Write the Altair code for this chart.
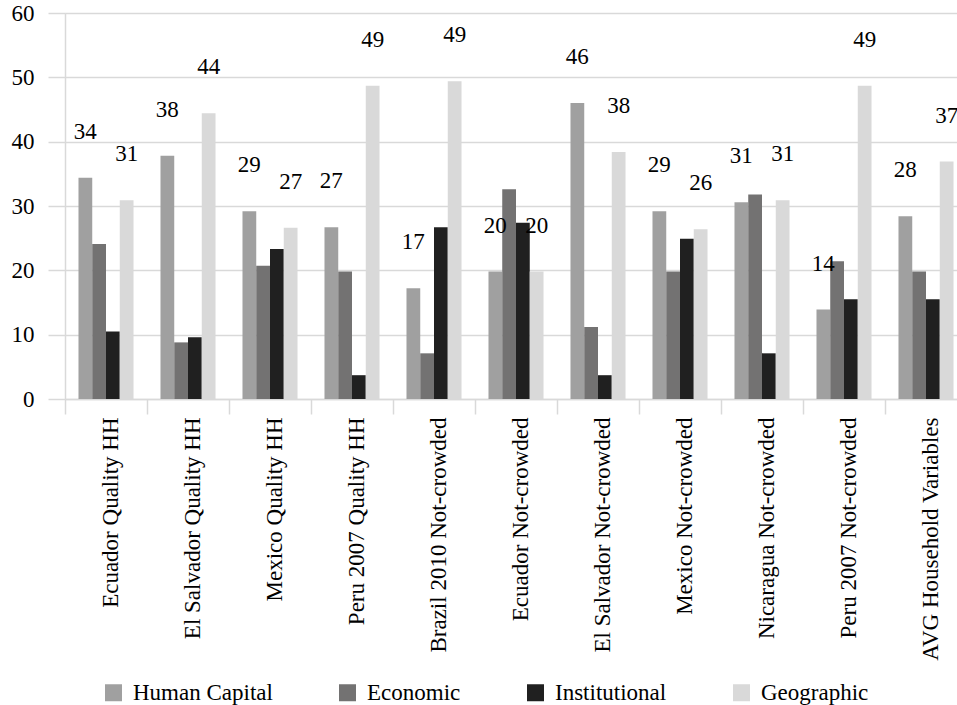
import altair as alt
import pandas as pd

# Categories along the x axis and the four factor groups
categories = [
    "Ecuador Quality HH",
    "El Salvador Quality HH",
    "Mexico Quality HH",
    "Peru 2007 Quality HH",
    "Brazil 2010 Not-crowded",
    "Ecuador Not-crowded",
    "El Salvador Not-crowded",
    "Mexico Not-crowded",
    "Nicaragua Not-crowded",
    "Peru 2007 Not-crowded",
    "AVG Household Variables",
]
series = ["Human Capital", "Economic", "Institutional", "Geographic"]

human_capital = [34.4, 37.8, 29.2, 26.7, 17.2, 19.8, 46.0, 29.2, 30.6, 13.9, 28.4]
economic = [24.1, 8.8, 20.7, 19.8, 7.1, 32.6, 11.2, 19.8, 31.8, 21.4, 19.8]
institutional = [10.5, 9.6, 23.3, 3.7, 26.7, 27.4, 3.7, 24.9, 7.1, 15.5, 15.5]
geographic = [30.9, 44.4, 26.6, 48.7, 49.4, 19.8, 38.4, 26.4, 30.9, 48.7, 36.9]

y_ticks = [0, 10, 20, 30, 40, 50, 60]
colors = ["#a0a0a0", "#737272", "#202020", "#d9d9d9"]
grid = "#d9d9d9"
FONT = "Liberation Serif"
FS = 23

rows = []
for name, vals in zip(series, [human_capital, economic, institutional, geographic]):
    for cat, v in zip(categories, vals):
        rows.append({"category": cat, "series": name, "value": v})
df = pd.DataFrame(rows)

x_enc = alt.X(
    "category:N",
    sort=categories,
    scale=alt.Scale(domain=categories, range=[0, 902], paddingInner=0, paddingOuter=0),
    axis=alt.Axis(
        title=None,
        labelAngle=270,
        labelAlign="right",
        labelBaseline="middle",
        labelFont=FONT,
        labelFontSize=FS,
        labelColor="#000000",
        labelPadding=3,
        labelOffset=4,
        labelLimit=0,
        labelOverlap=False,
        tickBand="extent",
        tickSize=15,
        tickColor=grid,
        tickWidth=1.5,
        domainColor=grid,
        domainWidth=1.5,
        grid=False,
    ),
)
xoff_enc = alt.XOffset(
    "series:N",
    sort=series,
    scale=alt.Scale(domain=series, paddingInner=0, paddingOuter=0.98),
)
y_enc = alt.Y(
    "value:Q",
    scale=alt.Scale(domain=[0, 60], nice=False),
    axis=alt.Axis(
        title=None,
        values=y_ticks,
        labelFont=FONT,
        labelFontSize=FS,
        labelColor="#000000",
        labelPadding=14,
        tickSize=17,
        tickColor=grid,
        tickWidth=1.5,
        domainColor=grid,
        domainWidth=1.5,
        gridColor=grid,
        gridWidth=1.5,
    ),
)

bars = alt.Chart(df).mark_bar().encode(
    x=x_enc,
    xOffset=xoff_enc,
    y=y_enc,
    color=alt.Color(
        "series:N",
        sort=series,
        scale=alt.Scale(domain=series, range=colors),
        legend=alt.Legend(
            orient="none",
            legendX=37,
            legendY=668,
            direction="horizontal",
            title=None,
            symbolType="square",
            symbolSize=289,
            symbolStrokeWidth=0,
            symbolOpacity=1,
            labelFont=FONT,
            labelFontSize=FS,
            labelColor="#000000",
            labelOffset=8,
            columnPadding=63,
        ),
    ),
)

labels = (
    alt.Chart(df)
    .transform_filter(alt.FieldOneOfPredicate(field="series", oneOf=["Human Capital", "Geographic"]))
    .mark_text(font=FONT, fontSize=FS, baseline="middle", dy=-46, color="#000000")
    .encode(
        x=x_enc,
        xOffset=xoff_enc,
        y=y_enc,
        text=alt.Text("value:Q", format=".0f"),
    )
)

chart = (
    alt.layer(bars, labels)
    .properties(
        width=892,
        height=386,
        autosize=alt.AutoSizeParams(type="none"),
        padding={"left": 65, "top": 13, "right": 0, "bottom": 306},
    )
    .configure_view(stroke=None)
    .configure(font=FONT)
    .configure_legend(labelFont=FONT, labelFontSize=FS, labelColor="#000000")
)

chart.save("out.html", embed_options={"renderer": "svg", "actions": False})
